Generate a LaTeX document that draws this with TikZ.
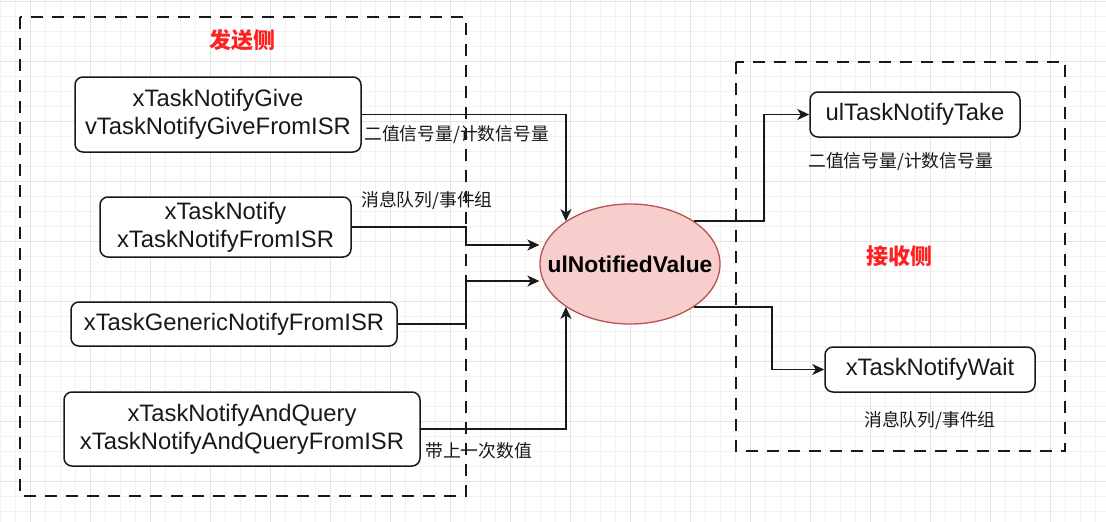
\documentclass[tikz,border=0pt]{standalone}
\usepackage{fontspec}
\setmainfont{Liberation Sans}
\newfontfamily\cjk{Noto Sans CJK SC}
\usetikzlibrary{shapes.geometric,arrows.meta}

\tikzset{
  funcbox/.style={draw=black!90, line width=1.5pt, rounded corners=8pt, fill=white,
    align=center, inner sep=0pt, text=black!90, font=\fontsize{23.8}{28}\selectfont},
  sidebox/.style={draw=black!90, line width=1.5pt, dash pattern=on 12pt off 9pt},
  conn/.style={draw=black!90, line width=1.6pt, -{Stealth[length=12pt,width=11pt,inset=3.5pt]}},
  note/.style={inner sep=0pt, anchor=west, text=black!90, font=\cjk\fontsize{17.8}{20}\selectfont},
  sidetitle/.style={inner sep=0pt, text=sidered, font=\cjk\bfseries\fontsize{22}{24}\selectfont},
}

\begin{document}
\begin{tikzpicture}[x=1pt,y=-1pt]
  \definecolor{sidered}{HTML}{FF2020}
  \definecolor{valuefill}{HTML}{F8CECC}
  \definecolor{valueedge}{HTML}{B85450}
  \definecolor{gridminor}{HTML}{F2F2F2}
  \definecolor{gridmajor}{HTML}{E4E4E4}

  \useasboundingbox (0,0) rectangle (1106,522);
  \fill[white] (0,0) rectangle (1106,522);

  % grid
  \foreach \x in {0,15,...,1105} \draw[gridminor,line width=0.8pt] (\x,0) -- (\x,522);
  \foreach \y in {1,16,...,521} \draw[gridminor,line width=0.8pt] (0,\y) -- (1106,\y);
  \foreach \x in {30,90,...,1090} \draw[gridmajor,line width=1pt] (\x,0) -- (\x,522);
  \foreach \y in {1,61,...,481} \draw[gridmajor,line width=1pt] (0,\y) -- (1106,\y);

  % sender side
  \draw[sidebox] (20,17) rectangle (466,496);
  \node[sidetitle] (sendtitle) at (242,40) {发送侧};
  \node[funcbox, minimum width=286pt, minimum height=75pt] (give) at (218,114.5)
    {xTaskNotifyGive\\vTaskNotifyGiveFromISR};
  \node[funcbox, minimum width=251pt, minimum height=60pt] (notify) at (225.5,227)
    {xTaskNotify\\xTaskNotifyFromISR};
  \node[funcbox, minimum width=326pt, minimum height=44pt] (generic) at (234,324)
    {xTaskGenericNotifyFromISR};
  \node[funcbox, minimum width=356pt, minimum height=74pt] (query) at (242,429)
    {xTaskNotifyAndQuery\\xTaskNotifyAndQueryFromISR};

  % receiver side
  \draw[sidebox] (736,62) rectangle (1065,451);
  \node[sidetitle] (recvtitle) at (899,256) {接收侧};
  \node[funcbox, minimum width=210pt, minimum height=45pt] (take) at (915,114.5)
    {ulTaskNotifyTake};
  \node[funcbox, minimum width=210pt, minimum height=45pt] (wait) at (930,369.5)
    {xTaskNotifyWait};

  % notification value
  \node[ellipse, draw=valueedge, fill=valuefill, line width=1.3pt, inner sep=0pt,
    minimum width=180pt, minimum height=120pt] (value) at (630,264) {};
  \node[font=\bfseries\fontsize{22.8}{26}\selectfont] (valuetext) at (value) {ulNotifiedValue};

  % connectors
  \coordinate (j1) at (466,245);
  \coordinate (j2) at (466,281);
  \draw[conn] (give.east) -| (value.north west);
  \draw[conn] (notify.east) -| (j1) -- (j1 -| value.west);
  \draw[conn] (generic.east) -| (j2) -- (j2 -| value.west);
  \draw[conn] (query.east) -| (value.south west);
  \draw[conn] (value.north east) -- ++(70,0) |- (take.west);
  \draw[conn] (value.south east) -- ++(78,0) |- (wait.west);

  % labels
  \node[note] (lblgive) at (364,135) {二值信号量/计数信号量};
  \node[note] (lblnotify) at (361,201) {消息队列/事件组};
  \node[note] (lblquery) at (425,451) {带上一次数值};
  \node[note] (lbltake) at (808,162) {二值信号量/计数信号量};
  \node[note] (lblwait) at (864,421) {消息队列/事件组};
\end{tikzpicture}
\end{document}
